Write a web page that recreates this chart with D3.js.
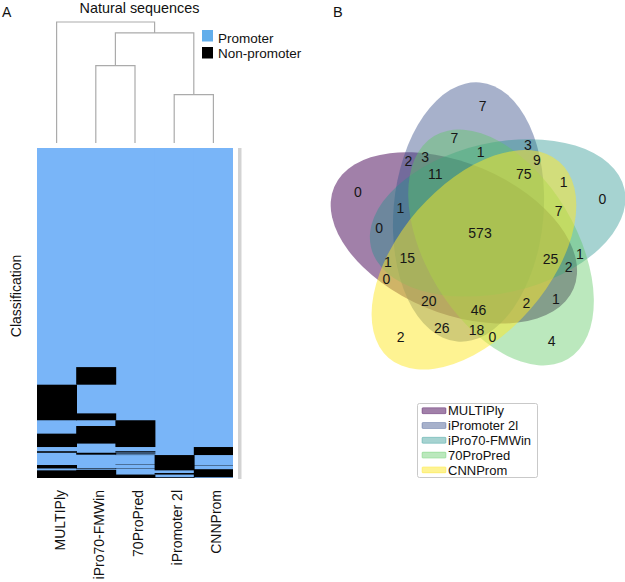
<!DOCTYPE html>
<html><head><meta charset="utf-8">
<script src="https://cdn.jsdelivr.net/npm/d3@7"></script>
<style>
html,body{margin:0;padding:0;background:#fff;}
svg{display:block;font-family:"Liberation Sans",Arial,Helvetica,sans-serif;}
</style></head><body>
<svg id="chart" width="625" height="582"></svg>
<script>
// ---------------- DATA ----------------
const setNames = ["MULTIPly", "iPromoter 2l", "iPro70-FMWin", "70ProPred", "CNNProm"];
// membership keys: one char per set in setNames order ("1" = predicted promoter)
const regionKeys = [
  "10000","01000","00100","00010","00001",
  "11000","01100","00110","00011","10001",
  "10100","01010","00101","10010","01001",
  "11100","01110","00111","10011","11001",
  "10101","11010","01101","10110","01011",
  "11101","11110","01111","10111","11011",
  "11111"
];
const regionCounts = [
  0, 7, 0, 4, 2,
  2, 3, 1, 0, 0,
  0, 7, 1, 1, 26,
  1, 1, 7, 2, 20,
  1, 3, 9, 2, 18,
  15, 11, 75, 25, 46,
  573
];
const heatmapColumns = ["MULTIPly", "iPro70-FMWin", "70ProPred", "iPromoter 2l", "CNNProm"];
// order of sequence groups (rows) in the heatmap, top to bottom
const rowOrder = [
  "11111","11011","01111","01011","11101","11001","01001","01101",
  "11110","01100","01110","11000","11010","11100",
  "10111","10101","00110","00111","00101","10011","10110","10010",
  "01010","00010","01000","00001",
  "10000","00100","00011","10001","10100"
];
const classLabels = ["Promoter", "Non-promoter"];
const dendrogramTree = {height: 1.0, children: [
  {name: "MULTIPly", height: 0},
  {height: 0.91, children: [
    {height: 0.64, children: [{name: "iPro70-FMWin", height: 0}, {name: "70ProPred", height: 0}]},
    {height: 0.40, children: [{name: "iPromoter 2l", height: 0}, {name: "CNNProm", height: 0}]}
  ]}
]};

// ---------------- STYLE / LAYOUT ----------------
const blue = "#79b5f8", legendBlue = "#62aeeb", black = "#000";
const vennColors = ["#440154", "#3b528b", "#21918c", "#5ec962", "#fde725"];
const vennOpacity = [0.5, 0.45, 0.4, 0.42, 0.5];
const svg = d3.select("#chart");

// ---------- Panel A ----------
svg.append("text").attr("x", 2).attr("y", 17).attr("font-size", 14).attr("fill", "#111").text("A");
svg.append("text").attr("x", 139.5).attr("y", 13).attr("font-size", 14.4).attr("text-anchor", "middle")
  .attr("fill", "#111").text("Natural sequences");

const x = d3.scaleBand().domain(heatmapColumns).range([37, 233]).padding(0);
const countByKey = new Map(regionKeys.map((k, i) => [k, regionCounts[i]]));
let acc = 0;
const blocks = rowOrder.map(key => {
  const c = countByKey.get(key) || 0;
  const b = {key, y0: acc, y1: acc + c};
  acc += c;
  return b;
});
const total = acc;
const y = d3.scaleLinear().domain([0, total]).range([148, 478]);
const lastCol = heatmapColumns[heatmapColumns.length - 1];
const cw = d => x.bandwidth() + (d === lastCol ? 0 : 0.8);

const heat = svg.append("g");
heat.selectAll("rect.col").data(heatmapColumns).join("rect").attr("class", "col")
  .attr("x", d => x(d)).attr("width", d => cw(d))
  .attr("y", y(0)).attr("height", y(total) - y(0)).attr("fill", blue);

// merge consecutive non-promoter groups per column into runs
const cells = [];
heatmapColumns.forEach(col => {
  const si = setNames.indexOf(col);
  let run = null;
  blocks.forEach(b => {
    if (b.y1 === b.y0) return;
    const member = b.key[si] === "1";
    if (!member) {
      if (run) run.y1 = b.y1; else { run = {col, y0: b.y0, y1: b.y1}; cells.push(run); }
    } else run = null;
  });
});
heat.selectAll("rect.cell").data(cells).join("rect").attr("class", "cell")
  .attr("x", d => x(d.col)).attr("width", d => cw(d.col))
  .attr("y", d => y(d.y0)).attr("height", d => y(d.y1) - y(d.y0)).attr("fill", black);

// grey side bar
svg.append("rect").attr("x", 238).attr("y", y(0)).attr("width", 3.5).attr("height", y(total) - y(0) + 1)
  .attr("fill", "#d3d3d3");

// column labels
svg.append("g").selectAll("text").data(heatmapColumns).join("text")
  .attr("transform", d => `translate(${x(d) + x.bandwidth() / 2 + 3},490) rotate(-90)`)
  .attr("text-anchor", "end").attr("dy", "0.35em").attr("font-size", 14).attr("fill", "#111")
  .text(d => d);

svg.append("text").attr("transform", "translate(16.5,296) rotate(-90)")
  .attr("text-anchor", "middle").attr("dy", "0.35em").attr("font-size", 14).attr("fill", "#111")
  .text("Classification");

// dendrogram
const root = d3.hierarchy(dendrogramTree);
const yd = d3.scaleLinear().domain([0, 1]).range([143, 22]);
root.eachAfter(n => {
  if (!n.children) n.px = x(n.data.name) + x.bandwidth() / 2;
  else n.px = d3.mean(n.children, c => c.px);
  n.py = yd(n.data.height);
});
const dg = svg.append("g").attr("stroke", "#ababab").attr("stroke-width", 1.2).attr("fill", "none");
root.descendants().filter(n => n.children).forEach(n => {
  const [a, b] = n.children;
  dg.append("path").attr("d",
    `M${a.px},${a.py}V${n.py}H${b.px}V${b.py}`);
});

// heatmap legend
const lg = svg.append("g");
classLabels.forEach((lab, i) => {
  lg.append("rect").attr("x", 202).attr("y", 30 + i * 17).attr("width", 11).attr("height", 11.5)
    .attr("fill", i === 0 ? legendBlue : black);
  lg.append("text").attr("x", 218).attr("y", 42.5 + i * 15.7).attr("font-size", 13.5).attr("fill", "#111").text(lab);
});

// ---------- Panel B ----------
svg.append("text").attr("x", 333).attr("y", 17).attr("font-size", 14.5).attr("fill", "#111").text("B");

const V = {cx: 479, cy: 235, a: 130, b: 75, dist: 25.3, offAngle: 173.5, axisAngle: 23, lobeAngle: 198.8};
const rad = Math.PI / 180;
const ellipses = setNames.map((name, k) => {
  const oa = (V.offAngle + 72 * k) * rad;
  return {name, k, cx: V.cx + V.dist * Math.cos(oa), cy: V.cy + V.dist * Math.sin(oa),
          rot: V.axisAngle + 72 * k, color: vennColors[k], op: vennOpacity[k]};
});
svg.append("g").selectAll("ellipse").data(ellipses).join("ellipse")
  .attr("cx", d => d.cx).attr("cy", d => d.cy).attr("rx", V.a).attr("ry", V.b)
  .attr("transform", d => `rotate(${d.rot},${d.cx},${d.cy})`)
  .attr("fill", d => d.color).attr("fill-opacity", d => d.op).attr("stroke", "none");

// label layout template (angle offset from a set's lobe direction, radius)
function labelPos(key) {
  const has = i => key[((i % 5) + 5) % 5] === "1";
  const idx = d3.range(5).filter(i => has(i));
  const n = idx.length;
  if (n === 5) return [V.cx + 1, V.cy - 2];
  let k = 0, off = 0, r = 0;
  const ks = d3.range(5);
  if (n === 1) { k = idx[0]; off = 0.8; r = 128.6; }
  else if (n === 4) { const m = ks.find(i => !has(i)); k = (m + 2) % 5; off = -36.4; r = 75.3; }
  else if (n === 3) {
    const kc = ks.find(i => has(i) && has(i + 1) && has(i + 2));
    if (kc !== undefined) { k = kc; off = 0.4; r = 83.2; }
    else { k = ks.find(i => has(i) && has(i + 2) && has(i + 4)); off = -35.3; r = 95; }
  } else if (n === 2) {
    const ka = ks.find(i => has(i - 1) && has(i));
    if (ka !== undefined) { k = ka; off = -44.3; r = 102.5; }
    else { k = ks.find(i => has(i) && has(i + 2)); off = -15; r = 100; }
  }
  const ang = (V.lobeAngle + 72 * k + off) * rad;
  return [V.cx + r * Math.cos(ang), V.cy + r * Math.sin(ang)];
}
const regions = regionKeys.map((key, i) => ({key, count: regionCounts[i], pos: labelPos(key)}));
svg.append("g").selectAll("text").data(regions).join("text")
  .attr("x", d => d.pos[0]).attr("y", d => d.pos[1]).attr("dy", "0.36em")
  .attr("text-anchor", "middle").attr("font-size", 14).attr("fill", "#161616")
  .text(d => d.count);

// venn legend
const vl = svg.append("g");
vl.append("rect").attr("x", 417.5).attr("y", 403.5).attr("width", 120).attr("height", 74)
  .attr("fill", "#fff").attr("stroke", "#c9c9c9").attr("rx", 2);
setNames.forEach((name, i) => {
  const cy = 410.7 + i * 14.8;
  vl.append("rect").attr("x", 422).attr("y", cy - 3).attr("width", 24).attr("height", 6).attr("rx", 1)
    .attr("fill", vennColors[i]).attr("fill-opacity", vennOpacity[i])
    .attr("stroke", vennColors[i]).attr("stroke-opacity", 0.45).attr("stroke-width", 0.8);
  vl.append("text").attr("x", 448).attr("y", cy).attr("dy", "0.36em").attr("font-size", 13)
    .attr("fill", "#111").text(name);
});
</script>
</body></html>
